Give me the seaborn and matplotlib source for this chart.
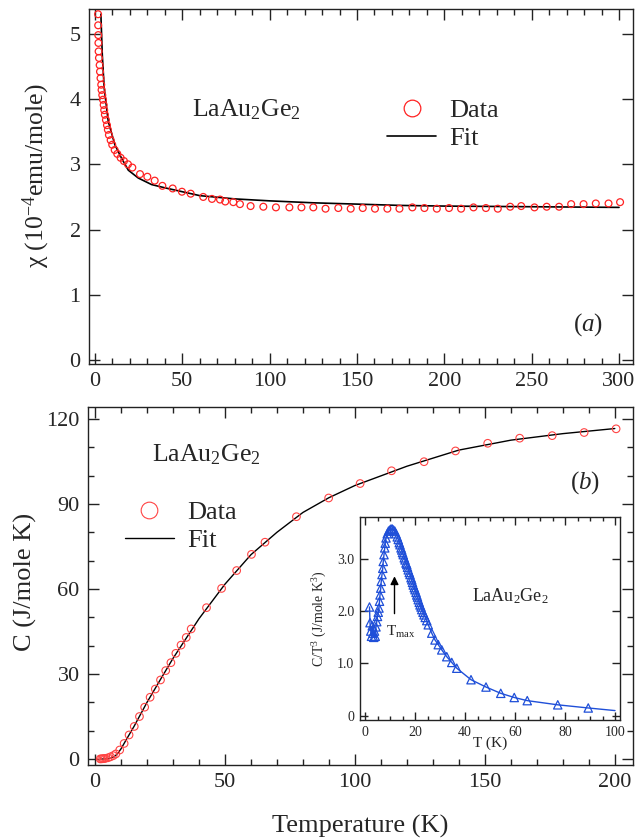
import matplotlib
matplotlib.use("Agg")
import matplotlib.pyplot as plt
import seaborn as sns
from matplotlib.lines import Line2D
from matplotlib.ticker import MultipleLocator, FuncFormatter

# (a) susceptibility data
chi_T = [1.8, 1.85, 1.9, 2.0, 2.1, 2.3, 2.7, 2.9, 3.2, 3.6, 3.8, 4.2, 4.6, 5.0, 5.3,
         5.7, 6.3, 6.9, 7.4, 8.0, 9.0, 9.9, 11.3, 12.8, 14.7, 16.6, 18.9, 21.4, 25.8,
         30.0, 34.2, 38.6, 44.5, 49.8, 54.8, 62.0, 67.0, 71.6, 74.6, 79.2, 83.0, 89.1,
         96.4, 103.6, 111.3, 118.2, 125.0, 132.0, 139.3, 146.4, 153.3, 160.3, 167.4,
         174.3, 181.7, 188.6, 195.7, 202.7, 209.6, 216.7, 223.8, 230.6, 237.7, 244.0,
         251.6, 258.6, 265.7, 272.6, 279.7, 286.7, 294.0, 300.6]
chi_data = [5.30, 5.13, 4.98, 4.86, 4.73, 4.63, 4.52, 4.42, 4.32, 4.22, 4.14, 4.06, 3.99,
            3.91, 3.83, 3.76, 3.68, 3.60, 3.53, 3.45, 3.37, 3.30, 3.22, 3.16, 3.10, 3.05,
            3.00, 2.95, 2.85, 2.81, 2.75, 2.67, 2.63, 2.58, 2.55, 2.50, 2.47, 2.46, 2.43,
            2.42, 2.39, 2.36, 2.35, 2.34, 2.34, 2.34, 2.34, 2.32, 2.33, 2.32, 2.33, 2.32,
            2.32, 2.32, 2.34, 2.33, 2.32, 2.33, 2.32, 2.34, 2.33, 2.32, 2.35, 2.36, 2.34,
            2.35, 2.35, 2.39, 2.39, 2.40, 2.40, 2.42]
chi_fit_T = [3.4, 4.2, 5.3, 7.6, 11.4, 15.3, 19.1, 24.8, 32.4, 40.0, 60.0, 80.0, 100.0,
             125.0, 150.0, 175.0, 200.0, 250.0, 300.0]
chi_fit = [5.30, 4.68, 4.17, 3.66, 3.30, 3.09, 2.91, 2.79, 2.69, 2.64, 2.52, 2.47, 2.44,
           2.41, 2.39, 2.37, 2.36, 2.35, 2.34]

# (b) specific heat data
c_T = [2.0, 2.5, 3.0, 3.5, 4.0, 5.0, 6.0, 7.0, 8.0, 9.5, 11.2, 13.1, 15.1, 17.1, 19.1,
       21.2, 23.2, 25.2, 27.2, 29.2, 31.1, 33.1, 35.1, 37.0, 42.9, 48.7, 54.5, 60.2,
       65.4, 77.5, 89.9, 102.0, 114.1, 126.6, 138.7, 151.1, 163.4, 175.9, 188.2, 200.5]
c_data = [0.05, 0.08, 0.12, 0.18, 0.25, 0.45, 0.8, 1.2, 1.8, 3.2, 5.5, 8.5, 11.5, 15.0,
          18.3, 21.8, 24.7, 27.9, 31.2, 34.0, 37.3, 40.2, 42.9, 45.9, 53.4, 60.2, 66.5,
          72.2, 76.5, 85.5, 92.1, 97.2, 101.7, 104.9, 108.7, 111.4, 113.2, 114.1, 115.2,
          116.5]
c_fit_T = [2, 4, 6, 7, 8, 9, 10, 12, 15, 20, 25, 30, 35, 40, 50, 60, 70, 80, 90, 100,
           120, 140, 160, 180, 200]
c_fit = [0.0, 0.05, 0.3, 0.7, 1.3, 2.3, 3.6, 6.8, 11.5, 20.0, 27.8, 35.5, 42.5, 49.5,
         61.7, 72.1, 80.0, 87.0, 92.2, 96.5, 103.3, 109.0, 112.5, 114.8, 116.6]

# inset: C/T^3
ins_T = [1.8, 2.0, 2.3, 2.6, 2.9, 3.2, 3.5, 3.8, 4.1, 4.4, 4.7, 5.0, 5.3, 5.6, 5.8, 6.0,
         6.3, 6.5, 6.8, 7.1, 7.3, 7.6, 7.9, 8.1, 8.4, 8.9, 9.4, 9.9, 10.4, 10.9, 11.4,
         11.9, 12.4, 12.9, 13.3, 13.7, 14.0, 14.4, 14.7, 15.0, 15.3, 15.7, 16.0, 16.4,
         16.7, 17.0, 17.3, 17.7, 18.0, 18.4, 18.7, 19.0, 19.3, 19.7, 20.0, 20.4, 20.7,
         21.0, 21.3, 21.7, 22.0, 22.4, 22.7, 23.2, 23.6, 24.1, 24.7, 25.3, 26.7, 28.0,
         29.3, 30.7, 32.7, 34.7, 36.7, 42.4, 48.4, 54.3, 59.7, 64.9, 77.1, 89.3]
ins_val = [2.08, 1.78, 1.62, 1.52, 1.72, 1.58, 1.50, 1.62, 1.52, 1.70, 1.80, 1.90, 1.98,
           2.06, 2.19, 2.31, 2.44, 2.57, 2.70, 2.82, 2.95, 3.08, 3.21, 3.30, 3.40, 3.48,
           3.53, 3.55, 3.57, 3.57, 3.55, 3.53, 3.48, 3.42, 3.37, 3.31, 3.27, 3.21, 3.17,
           3.12, 3.08, 3.02, 2.98, 2.92, 2.89, 2.84, 2.79, 2.74, 2.70, 2.64, 2.60, 2.55,
           2.50, 2.45, 2.41, 2.36, 2.31, 2.27, 2.22, 2.17, 2.12, 2.08, 2.03, 1.98, 1.93,
           1.88, 1.82, 1.74, 1.58, 1.45, 1.36, 1.26, 1.13, 1.02, 0.91, 0.69, 0.55, 0.43,
           0.35, 0.29, 0.21, 0.15]
ins_tail_T = [89.3, 100.0]
ins_tail = [0.15, 0.10]

sns.set_style("ticks")
plt.rcParams['font.family'] = ['Liberation Serif', 'DejaVu Serif']
plt.rcParams['mathtext.fontset'] = 'custom'
plt.rcParams['mathtext.rm'] = 'Liberation Serif'
plt.rcParams['mathtext.it'] = 'Liberation Serif:italic'
plt.rcParams['mathtext.bf'] = 'Liberation Serif:bold'
plt.rcParams['axes.edgecolor'] = '#222222'
plt.rcParams['axes.linewidth'] = 1.0

red = '#ff2222'
blue = '#1f4fd8'

fig = plt.figure(figsize=(6.39, 8.4), dpi=100)
ax1 = fig.add_axes([89/639, 1-364/840, 544/639, 355/840])
ax2 = fig.add_axes([88/639, 1-765/840, 545/639, 358/840])
ins = fig.add_axes([360/639, 1-720/840, 260/639, 203/840])


def style(ax, size, major, minor, pad):
    ax.tick_params(which='both', direction='in', top=True, right=True,
                   labelsize=size, width=1, color='#222222', pad=pad)
    ax.tick_params(which='major', length=major)
    ax.tick_params(which='minor', length=minor)


# panel (a)
sns.scatterplot(x=chi_T, y=chi_data, ax=ax1, marker='o', s=24, facecolor='none',
                edgecolor=red, linewidth=0.9, legend=False, zorder=3)
sns.lineplot(x=chi_fit_T, y=chi_fit, ax=ax1, color='black', lw=1.2, estimator=None)
ax1.set_xlim(-3.4, 308)
ax1.set_ylim(-0.06, 5.38)
ax1.xaxis.set_major_locator(MultipleLocator(50))
ax1.xaxis.set_minor_locator(MultipleLocator(10))
ax1.yaxis.set_major_locator(MultipleLocator(1))
style(ax1, 16, 8, 4, 6)
ax1.set_xlabel('')
ax1.set_ylabel("χ (10$^{-4}$emu/mole)", fontsize=18.5)
ax1.yaxis.set_label_coords(-0.068, 0.53)
ax1.text(0.289, 0.715, 'LaAu$_2$Ge$_2$', transform=ax1.transAxes, fontsize=18.5,
         ha='center', va='center')
ax1.text(0.917, 0.11, '$(a)$', transform=ax1.transAxes, fontsize=18,
         ha='center', va='center')
h1 = [Line2D([], [], ls='', marker='o', ms=12, mfc='none', mec=red, mew=0.9),
      Line2D([], [], color='black', lw=1.2)]
ax1.legend(h1, ['Data', 'Fit'], loc='upper left', bbox_to_anchor=(0.548, 0.748),
           frameon=False, fontsize=19, handlelength=1.85, handletextpad=0.5,
           borderpad=0, borderaxespad=0, labelspacing=0.18)

# panel (b)
sns.scatterplot(x=c_T, y=c_data, ax=ax2, marker='o', s=30, facecolor='none',
                edgecolor='#ff4444', linewidth=0.8, legend=False, zorder=3)
sns.lineplot(x=c_fit_T, y=c_fit, ax=ax2, color='black', lw=1.0, estimator=None)
ax2.set_xlim(-2.7, 207)
ax2.set_ylim(-2.1, 124.2)
ax2.xaxis.set_major_locator(MultipleLocator(50))
ax2.xaxis.set_minor_locator(MultipleLocator(10))
ax2.yaxis.set_major_locator(MultipleLocator(30))
ax2.yaxis.set_minor_locator(MultipleLocator(10))
style(ax2, 16, 8, 4, 6)
ax2.set_xlabel('Temperature (K)', fontsize=19, labelpad=16)
ax2.set_ylabel('C (J/mole K)', fontsize=19)
ax2.yaxis.set_label_coords(-0.093, 0.51)
ax2.text(0.217, 0.866, 'LaAu$_2$Ge$_2$', transform=ax2.transAxes, fontsize=18.5,
         ha='center', va='center')
ax2.text(0.912, 0.79, '$(b)$', transform=ax2.transAxes, fontsize=18,
         ha='center', va='center')
h2 = [Line2D([], [], ls='', marker='o', ms=12, mfc='none', mec='#ff4444', mew=0.8),
      Line2D([], [], color='black', lw=1.0)]
ax2.legend(h2, ['Data', 'Fit'], loc='upper left', bbox_to_anchor=(0.068, 0.738),
           frameon=False, fontsize=19, handlelength=1.85, handletextpad=0.5,
           borderpad=0, borderaxespad=0, labelspacing=0.18)

# inset
sns.lineplot(x=ins_T + ins_tail_T[1:], y=ins_val + ins_tail[1:], ax=ins, color=blue,
             lw=1.0, estimator=None, sort=False)
sns.scatterplot(x=ins_T, y=ins_val, ax=ins, marker='^', s=36, facecolor='none',
                edgecolor=blue, linewidth=0.9, legend=False, zorder=3)
ins.set_xlim(-2, 102)
ins.set_ylim(-0.08, 3.8)
ins.xaxis.set_major_locator(MultipleLocator(20))
ins.xaxis.set_minor_locator(MultipleLocator(5))
ins.yaxis.set_major_locator(MultipleLocator(1))
ins.yaxis.set_major_formatter(FuncFormatter(lambda v, p: '0' if abs(v) < 1e-9 else f'{v:.1f}'))
style(ins, 10, 6, 3, 4)
ins.set_xlabel('T (K)', fontsize=11)
ins.xaxis.set_label_coords(0.5, -0.08)
ins.set_ylabel('C/T$^3$ (J/mole K$^3$)', fontsize=10)
ins.yaxis.set_label_coords(-0.12, 0.5)
ins.text(58, 2.28, 'LaAu$_2$Ge$_2$', fontsize=13, ha='center', va='center')
ins.annotate('', xy=(11.8, 2.72), xytext=(11.8, 1.9),
             arrowprops=dict(arrowstyle='-|>', color='black', lw=1.0, mutation_scale=12))
ins.text(14.5, 1.6, 'T$_{\\rm max}$', fontsize=11, ha='center', va='center')

fig.savefig('out.png', dpi=100)
